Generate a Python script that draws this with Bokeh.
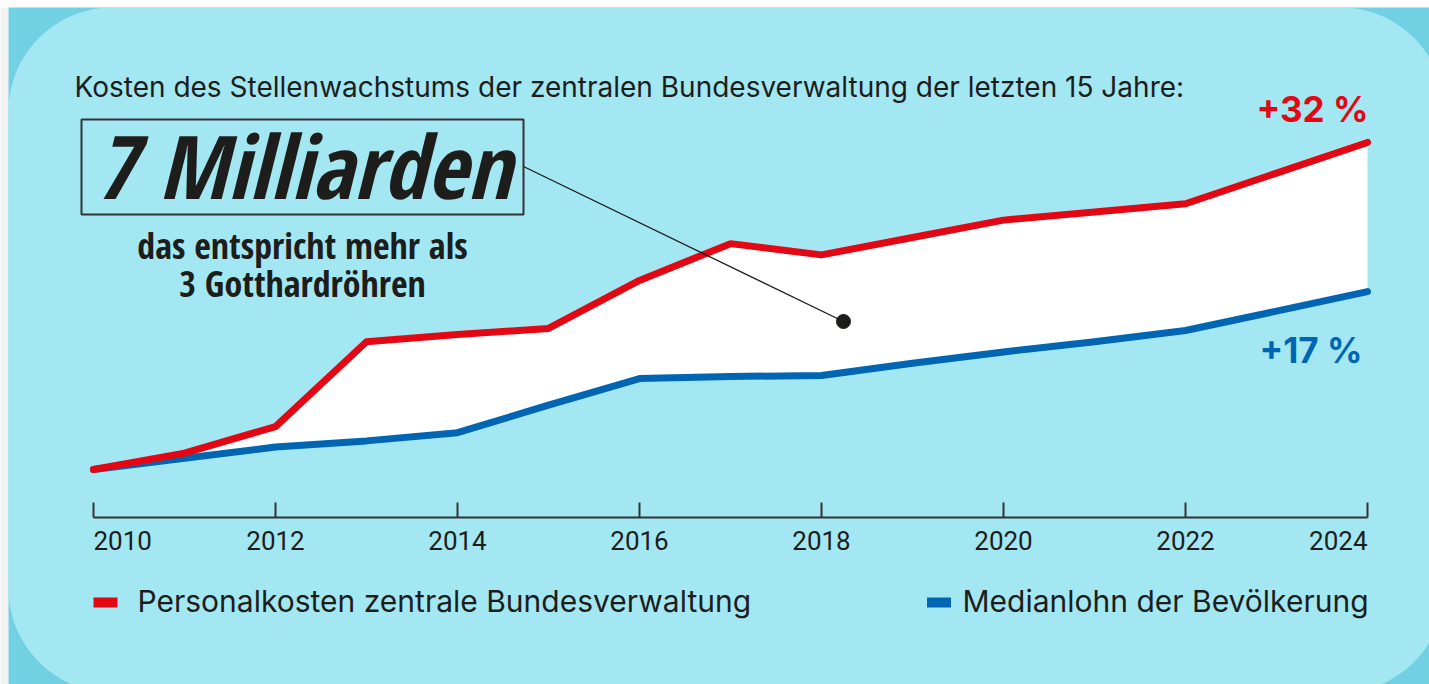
import numpy as np
from bokeh.plotting import figure
from bokeh.models import Range1d, LinearAxis, FixedTicker, Label
from bokeh.embed import file_html
from bokeh.resources import INLINE
from bokeh.core.properties import value

# ---------------- data ----------------
years = list(range(2010, 2025))
personalkosten = [0.0, 1.6, 4.2, 12.5, 13.2, 13.8, 18.5, 22.1, 21.0, 22.7, 24.4, 25.2, 26.0, 29.0, 32.0]
medianlohn = [0.0, 1.1, 2.2, 2.8, 3.6, 6.3, 8.9, 9.1, 9.2, 10.4, 11.5, 12.5, 13.6, 15.5, 17.4]
tick_years = [2010, 2012, 2014, 2016, 2018, 2020, 2022, 2024]
tick_labels = ["2010", "2012", "2014", "2016", "2018", "2020", "2022", "2024"]
series_names = ["Personalkosten zentrale Bundesverwaltung", "Medianlohn der Bevölkerung"]
end_labels = ["+32 %", "+17 %"]
title_text = "Kosten des Stellenwachstums der zentralen Bundesverwaltung der letzten 15 Jahre:"
headline = "7 Milliarden"
sublines = ["das entspricht mehr als", "3 Gotthardröhren"]

# ---------------- styling ----------------
RED = "#e30613"
BLUE = "#0066b3"
LIGHT = "#a3e7f3"
DARK = "#72d0e3"
INK = "#1d1d1b"
AX = "#333333"
SANS = "Inter"
COND = "Open Sans Condensed, Roboto Condensed, DejaVu Sans Condensed, sans-serif"
BSHIFT = 0.40   # baseline correction (fraction of font size)

W, H = 1429, 684
PPX = 91.0             # pixels per year
PPY = 10.22            # pixels per percent
X0 = 2010 - 93 / PPX
Y_TOP = 469 / PPY


def dx(px):
    return X0 + px / PPX


def dy(py):
    return Y_TOP - py / PPY


def by_(py, fs):
    return dy(py - BSHIFT * fs)


p = figure(width=W, height=H, title=None,
           x_range=Range1d(X0, X0 + W / PPX), y_range=Range1d(Y_TOP - H / PPY, Y_TOP),
           x_axis_type=None, y_axis_type=None, toolbar_location=None,
           output_backend="svg", min_border=0,
           background_fill_color="white", border_fill_color="white", outline_line_color=None)

# page strips and backdrop
p.quad(left=[dx(0)], right=[dx(8)], top=[dy(7)], bottom=[dy(H)], fill_color="#f2f2f2", line_color=None)
p.quad(left=[dx(8)], right=[dx(W)], top=[dy(7)], bottom=[dy(H)], fill_color=DARK, line_color=None)


def rounded(l, t, r, b, rad, n=30):
    xs, ys = [], []
    for cx, cy, a0 in [(l + rad, t + rad, 180), (r - rad, t + rad, 270),
                       (r - rad, b - rad, 0), (l + rad, b - rad, 90)]:
        for a in np.linspace(np.radians(a0), np.radians(a0 + 90), n):
            xs.append(cx + rad * np.cos(a))
            ys.append(cy + rad * np.sin(a))
    return [dx(v) for v in xs], [dy(v) for v in ys]

bx, by = rounded(8, 7, 1444, 692, 104)
p.patch(bx, by, fill_color=LIGHT, line_color=None)

# area between the lines
p.varea(x=years, y1=medianlohn, y2=personalkosten, fill_color="white")
p.line(years, medianlohn, line_width=7, line_color=BLUE, line_cap="round", line_join="round")
p.line(years, personalkosten, line_width=7, line_color=RED, line_cap="round", line_join="round")

# x axis inside the frame
ax = LinearAxis(fixed_location=dy(516.5), ticker=FixedTicker(ticks=tick_years),
                bounds=(tick_years[0], tick_years[-1]),
                axis_line_color=AX, axis_line_width=2,
                major_tick_line_color=AX, major_tick_line_width=2,
                major_tick_in=15, major_tick_out=0,
                minor_tick_line_color=None,
                major_label_text_font_size="0px", major_label_text_alpha=0)
p.add_layout(ax, "below")

aligns = ["left"] + ["center"] * (len(tick_years) - 2) + ["right"]
p.text(x=tick_years, y=[by_(550, 26)] * len(tick_years), text=tick_labels,
       text_align=aligns, text_baseline="alphabetic",
       text_font=value("Roboto"), text_font_size="26px", text_color=INK)

# title
p.add_layout(Label(x=dx(74), y=by_(98, 28), text=title_text, text_align="left",
                   text_baseline="alphabetic", text_font=SANS,
                   text_font_size="28px", text_color=INK))

# end labels
p.add_layout(Label(x=dx(1368), y=by_(122, 35), text=end_labels[0], text_align="right",
                   text_baseline="alphabetic", text_font=SANS,
                   text_font_style="bold", text_font_size="35px", text_color=RED))
p.add_layout(Label(x=dx(1362), y=by_(363, 35), text=end_labels[1], text_align="right",
                   text_baseline="alphabetic", text_font=SANS,
                   text_font_style="bold", text_font_size="35px", text_color=BLUE))

# headline box
p.quad(left=dx(81), right=dx(523), top=dy(119), bottom=dy(214),
       fill_color=None, line_color=AX, line_width=2)
p.add_layout(Label(x=dx(303), y=by_(200, 88), text=headline, text_align="center",
                   text_baseline="alphabetic", text_font=COND,
                   text_font_style="bold italic", text_font_size="88px", text_color=INK))
for txt, base in zip(sublines, [259, 297]):
    p.add_layout(Label(x=dx(302), y=by_(base, 36), text=txt, text_align="center",
                       text_baseline="alphabetic", text_font=COND,
                       text_font_style="bold", text_font_size="36px", text_color=INK))

# leader line with dot
p.segment(x0=[dx(523)], y0=[dy(166)], x1=[dx(843)], y1=[dy(321)], line_color=INK, line_width=1.3)
p.scatter(x=[dx(843)], y=[dy(321)], size=14, color=INK)

# legend
p.rect(x=[dx(105), dx(938.5)], y=[dy(602), dy(602)], width=24 / PPX, height=10 / PPY,
       fill_color=[RED, BLUE], line_color=None)
p.add_layout(Label(x=dx(137), y=by_(612, 30), text=series_names[0], text_align="left",
                   text_baseline="alphabetic", text_font=SANS,
                   text_font_size="30px", text_color=INK))
p.add_layout(Label(x=dx(962), y=by_(612, 30), text=series_names[1], text_align="left",
                   text_baseline="alphabetic", text_font=SANS,
                   text_font_size="30px", text_color=INK))

open("out.html", "w").write(file_html(p, INLINE))
